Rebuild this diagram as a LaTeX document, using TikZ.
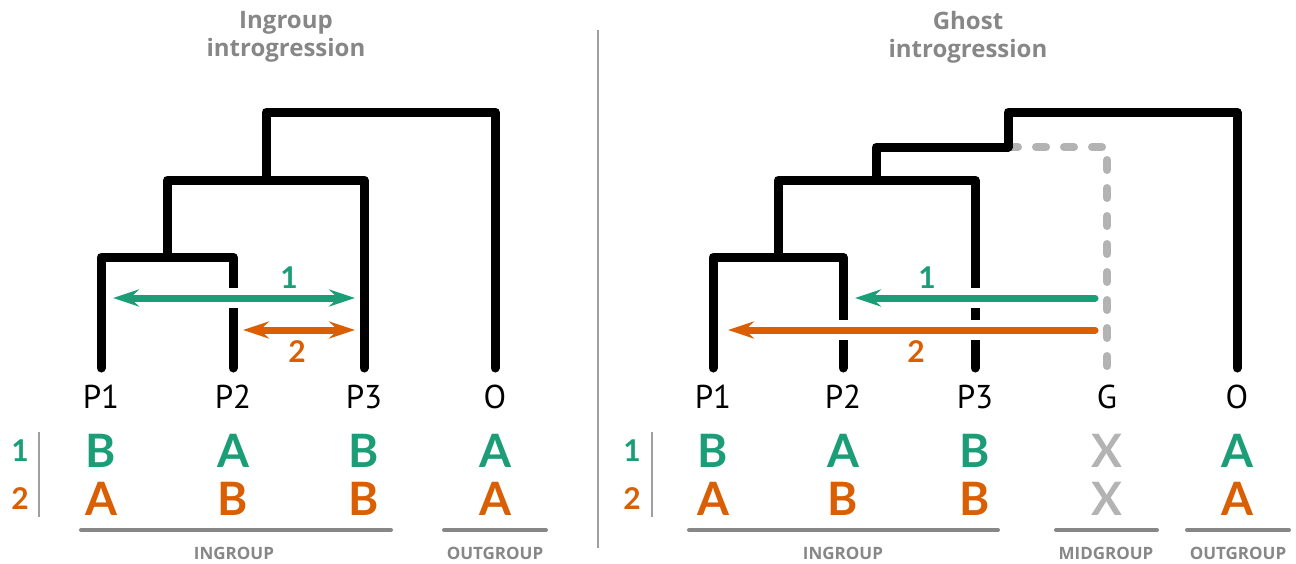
\documentclass[tikz,border=0pt]{standalone}
\usepackage{fontspec}
\setmainfont{Lato}
\newfontfamily\leaffont{PT Sans}
\newfontfamily\widefont{Open Sans}
\usetikzlibrary{arrows.meta}
\definecolor{flowgreen}{HTML}{1B9E77}
\definecolor{floworange}{HTML}{D95F02}
\definecolor{ghostgray}{HTML}{B3B3B3}
\definecolor{labelgray}{HTML}{878787}
\tikzset{
  branch/.style={line width=9pt, black, line cap=round, line join=round},
  ghostline/.style={line width=8pt, ghostgray, line cap=round, line join=round,
    dash pattern=on 10pt off 18pt},
  flow/.style={line width=7pt, line cap=round,
    >={Stealth[length=26pt, width=17pt, inset=9pt]},
    preaction={draw=white, line width=20pt, line cap=butt, -}},
  flowone/.style={flow, flowgreen},
  flowtwo/.style={flow, floworange},
  flownum/.style={font=\bfseries\fontsize{30}{30}\selectfont, inner sep=0pt},
  leaf/.style={font=\leaffont\fontsize{33}{33}\selectfont, inner sep=0pt},
  state/.style={font=\bfseries\fontsize{46}{46}\selectfont, inner sep=0pt},
  rownum/.style={font=\bfseries\fontsize{30}{30}\selectfont, inner sep=0pt},
  groupbar/.style={line width=4pt, labelgray, line cap=round},
  grouplab/.style={font=\widefont\bfseries\fontsize{17}{17}\selectfont, text=labelgray, inner sep=0pt},
  title/.style={font=\widefont\bfseries\fontsize{24}{28}\selectfont, text=labelgray,
    align=center, inner sep=0pt},
  rule/.style={line width=2pt, labelgray!80}
}
\begin{document}
\begin{tikzpicture}[x=1pt, y=-1pt]
  \useasboundingbox (0,0) rectangle (1296,563);
  % titles and divider
  \node[title] (ltitle) at (286,37) {Ingroup\\introgression};
  \node[title] (rtitle) at (968,37) {Ghost\\introgression};
  \coordinate (divtop) at (598,30);
  \coordinate (divbot) at (598,548);
  \draw[rule] (divtop) -- (divbot);

  % left tree
  \coordinate (lP1) at (101,368);
  \coordinate (lP2) at (233,368);
  \coordinate (lP3) at (364,368);
  \coordinate (lO) at (495,368);
  \coordinate (l12) at (167,257);
  \coordinate (l123) at (266,180);
  \coordinate (lroot) at (380,112);
  \draw[branch] (lP1) |- (l12) -| (lP2);
  \draw[branch] (l12) |- (l123) -| (lP3);
  \draw[branch] (l123) |- (lroot) -| (lO);

  % left gene flow
  \coordinate (lg1a) at (113,298);
  \coordinate (lg1b) at (355,298);
  \coordinate (lg2a) at (243,330);
  \coordinate (lg2b) at (355,330);
  \draw[flowone, <->] (lg1a) -- (lg1b);
  \draw[flowtwo, <->] (lg2a) -- (lg2b);
  \node[flownum, text=flowgreen] (lnum1) at (289,278) {1};
  \node[flownum, text=floworange] (lnum2) at (297,352) {2};

  % right tree
  \coordinate (rP1) at (713,368);
  \coordinate (rP2) at (843,368);
  \coordinate (rP3) at (975,368);
  \coordinate (rG) at (1107,368);
  \coordinate (rO) at (1237,368);
  \coordinate (r12) at (778,257);
  \coordinate (r123) at (876,180);
  \coordinate (rgh) at (1008,147);
  \coordinate (rroot) at (1120,112);
  \draw[ghostline] (rgh) -| (rG);
  \draw[branch] (rP1) |- (r12) -| (rP2);
  \draw[branch] (r12) |- (r123) -| (rP3);
  \draw[branch] (r123) |- (rgh) |- (rroot) -| (rO);

  % right gene flow
  \coordinate (rg1a) at (1095,298);
  \coordinate (rg1b) at (855,298);
  \coordinate (rg2a) at (1095,330);
  \coordinate (rg2b) at (728,330);
  \draw[flowone, ->] (rg1a) -- (rg1b);
  \draw[flowtwo, ->] (rg2a) -- (rg2b);
  \node[flownum, text=flowgreen] (rnum1) at (927,278) {1};
  \node[flownum, text=floworange] (rnum2) at (916,352) {2};

  % leaf labels
  \foreach \name/\px in {P1/101, P2/233, P3/364, O/495}
    \node[leaf] (ll\name) at (\px,397) {\name};
  \foreach \name/\px in {P1/713, P2/843, P3/975, G/1107, O/1237}
    \node[leaf] (rl\name) at (\px,397) {\name};

  % site patterns
  \node[rownum, text=flowgreen] (lrow1) at (20,451) {1};
  \node[rownum, text=floworange] (lrow2) at (20,499) {2};
  \coordinate (lrtop) at (39,432);
  \coordinate (lrbot) at (39,517);
  \draw[rule] (lrtop) -- (lrbot);
  \foreach \s/\px/\c in {B/101/flowgreen, A/233/flowgreen, B/364/flowgreen, A/495/flowgreen}
    \node[state, text=\c] at (\px,451) {\s};
  \foreach \s/\px/\c in {A/101/floworange, B/233/floworange, B/364/floworange, A/495/floworange}
    \node[state, text=\c] at (\px,499) {\s};

  \node[rownum, text=flowgreen] (rrow1) at (632,451) {1};
  \node[rownum, text=floworange] (rrow2) at (632,499) {2};
  \coordinate (rrtop) at (652,432);
  \coordinate (rrbot) at (652,517);
  \draw[rule] (rrtop) -- (rrbot);
  \foreach \s/\px/\c in {B/713/flowgreen, A/843/flowgreen, B/975/flowgreen, X/1107/ghostgray, A/1237/flowgreen}
    \node[state, text=\c] at (\px,451) {\s};
  \foreach \s/\px/\c in {A/713/floworange, B/843/floworange, B/975/floworange, X/1107/ghostgray, A/1237/floworange}
    \node[state, text=\c] at (\px,499) {\s};

  % groups
  \coordinate (lin1) at (81,530);   \coordinate (lin2) at (391,530);
  \coordinate (lout1) at (444,530); \coordinate (lout2) at (546,530);
  \coordinate (rin1) at (689,530);  \coordinate (rin2) at (998,530);
  \coordinate (rmid1) at (1056,530); \coordinate (rmid2) at (1157,530);
  \coordinate (rout1) at (1187,530); \coordinate (rout2) at (1289,530);
  \draw[groupbar] (lin1) -- (lin2);
  \draw[groupbar] (lout1) -- (lout2);
  \draw[groupbar] (rin1) -- (rin2);
  \draw[groupbar] (rmid1) -- (rmid2);
  \draw[groupbar] (rout1) -- (rout2);
  \node[grouplab] (lingroup) at (234,553) {INGROUP};
  \node[grouplab] (loutgroup) at (495,553) {OUTGROUP};
  \node[grouplab] (ringroup) at (843,553) {INGROUP};
  \node[grouplab] (rmidgroup) at (1106,553) {MIDGROUP};
  \node[grouplab] (routgroup) at (1238,553) {OUTGROUP};
\end{tikzpicture}
\end{document}
